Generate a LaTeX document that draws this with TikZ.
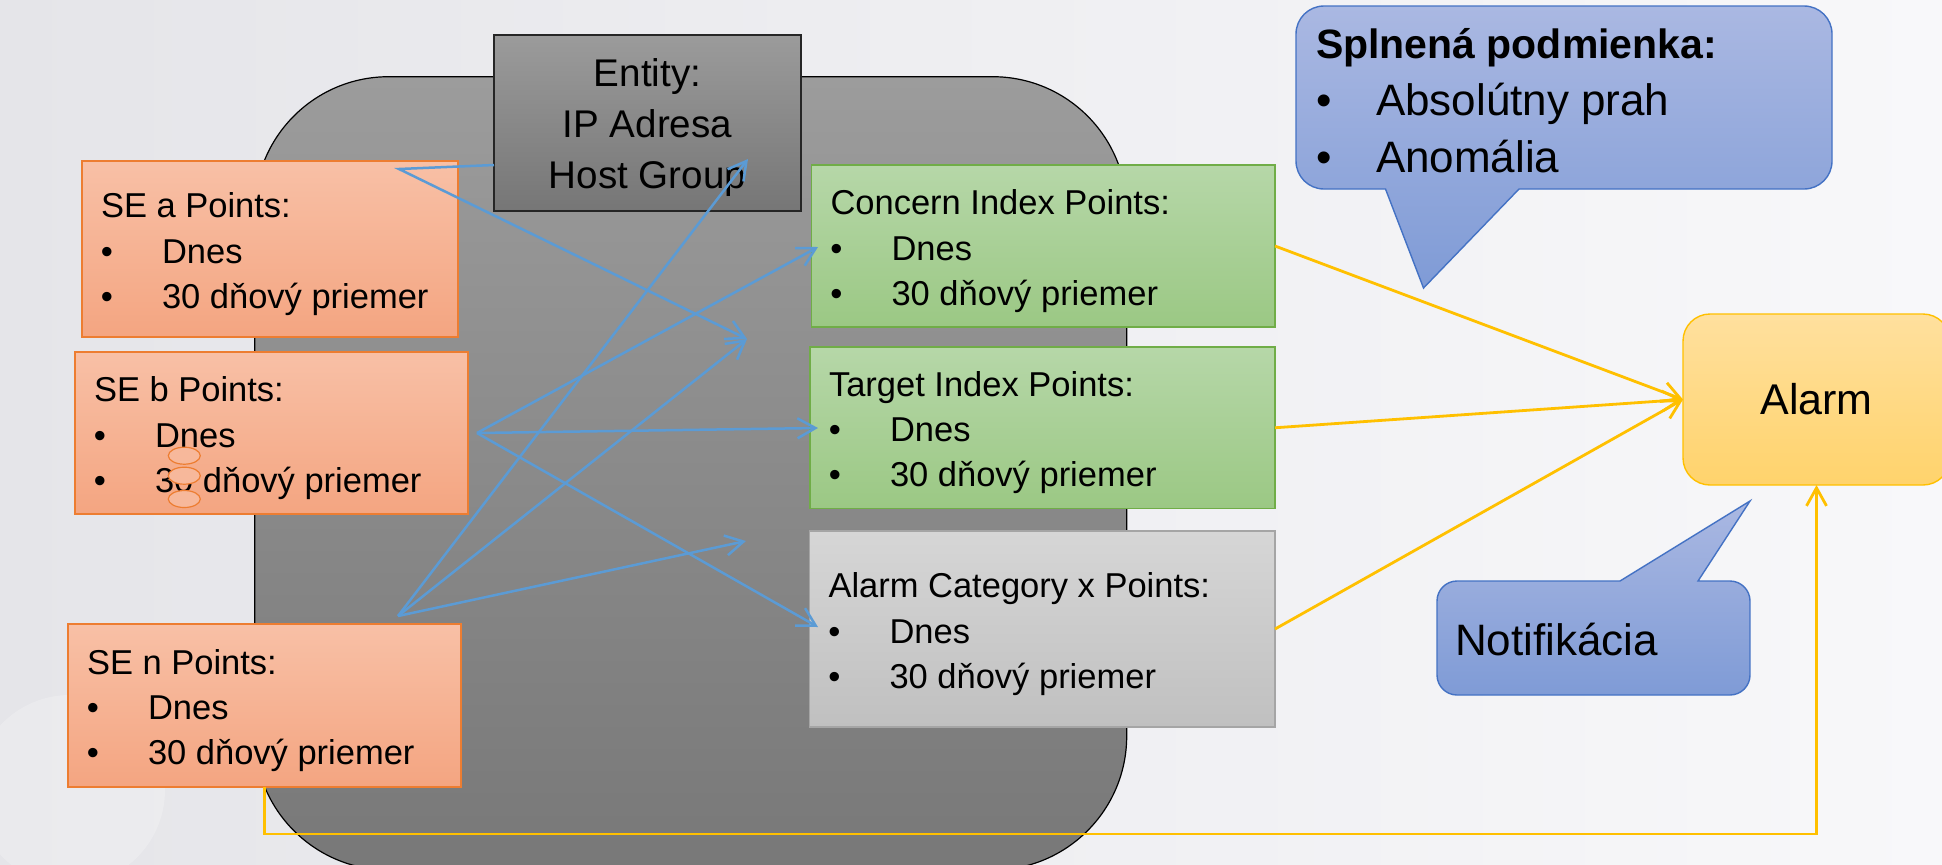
\documentclass[tikz,border=0pt]{standalone}
\usepackage{fontspec}
\setmainfont{Liberation Sans}
\usetikzlibrary{arrows.meta,calc,shapes.geometric}

\definecolor{bgL}{HTML}{E5E5E9}
\definecolor{bgR}{HTML}{F8F8FA}
\definecolor{panelT}{HTML}{9C9C9C}
\definecolor{panelB}{HTML}{787878}
\definecolor{entT}{HTML}{9B9B9B}
\definecolor{entB}{HTML}{767676}
\definecolor{orT}{HTML}{F8C0A6}
\definecolor{orB}{HTML}{F4A581}
\definecolor{orE}{HTML}{ED7D31}
\definecolor{orMark}{HTML}{F7B89B}
\definecolor{grT}{HTML}{B6D7A8}
\definecolor{grB}{HTML}{9BC884}
\definecolor{grE}{HTML}{70AD47}
\definecolor{gyT}{HTML}{D6D6D6}
\definecolor{gyB}{HTML}{C0C0C0}
\definecolor{gyE}{HTML}{A5A5A5}
\definecolor{alT}{HTML}{FFE09E}
\definecolor{alB}{HTML}{FFD36C}
\definecolor{alE}{HTML}{FFC000}
\definecolor{coT}{HTML}{AAB8E2}
\definecolor{coB}{HTML}{7F9BD6}
\definecolor{coE}{HTML}{4472C4}
\definecolor{lnBlue}{HTML}{5B9BD5}
\definecolor{lnYel}{HTML}{FFC000}

\tikzset{
  boxbase/.style={rectangle, inner sep=0pt, outer sep=0pt, line width=0.8pt},
  sebox/.style={boxbase, draw=orE, top color=orT, bottom color=orB},
  idxbox/.style={boxbase, draw=grE, top color=grT, bottom color=grB},
  catbox/.style={boxbase, draw=gyE, top color=gyT, bottom color=gyB},
  entbox/.style={boxbase, draw=black!85, top color=entT, bottom color=entB},
  panel/.style={rectangle, rounded corners=67pt, draw=black, line width=0.6pt,
    top color=panelT, bottom color=panelB, inner sep=0pt, outer sep=0pt},
  alarmbox/.style={rectangle, rounded corners=13.5pt, draw=alE, line width=0.7pt,
    top color=alT, bottom color=alB, inner sep=0pt, outer sep=0pt,
    font=\fontsize{21.5pt}{24pt}\selectfont},
  callout/.style={draw=coE, line width=0.7pt, top color=coT, bottom color=coB},
  dot/.style={ellipse, draw=orE, fill=orMark, line width=0.6pt, inner sep=0pt,
    minimum width=16pt, minimum height=8.5pt},
  txt/.style={inner sep=0pt, outer sep=0pt, font=\fontsize{17.25pt}{20pt}\selectfont},
  enttxt/.style={inner sep=0pt, outer sep=0pt, font=\fontsize{19.3pt}{22pt}\selectfont},
  cotitle/.style={inner sep=0pt, outer sep=0pt, font=\fontsize{20.5pt}{24pt}\selectfont\bfseries},
  cotxt/.style={inner sep=0pt, outer sep=0pt, font=\fontsize{22pt}{26pt}\selectfont},
  blueline/.style={draw=lnBlue, line width=1.25pt, line join=miter},
  bluearrow/.style={blueline, -{Straight Barb[length=9pt,width=10pt]}},
  yelarrow/.style={draw=lnYel, line width=1.4pt, -{Straight Barb[length=9pt,width=10pt]}},
}

% box with a title and the two bullet items
\newcommand{\pointsbox}[7]{%
  \node[#2, minimum width={(#5-#3)*0.5pt}, minimum height={(#6-#4)*0.5pt},
        anchor=north west] (#1) at (#3,#4) {};
  \node[txt, anchor=base west] (#1-t)  at ($(#1.west)+(19,-31.5)$) {#7};
  \node[txt, anchor=base]      (#1-b1) at ($(#1.west)+(25,14)$) {•};
  \node[txt, anchor=base west] (#1-i1) at ($(#1.west)+(80,14)$) {Dnes};
  \node[txt, anchor=base]      (#1-b2) at ($(#1.west)+(25,59)$) {•};
  \node[txt, anchor=base west] (#1-i2) at ($(#1.west)+(80,59)$) {30 dňový priemer};
}

\begin{document}
\begin{tikzpicture}[x=0.5pt,y=-0.5pt]
\useasboundingbox (0,0) rectangle (1942,864);
\clip (0,0) rectangle (1942,864);

% backdrop
\fill[left color=bgL, right color=bgR] (0,0) rectangle (1942,864);
\fill[white, opacity=0.22] (70,790) circle (95);

% large rounded panel
\node[panel, minimum width=436pt, minimum height=396.65pt, anchor=north west]
  (panel) at (254.7,76.7) {};

% entity box
\node[entbox, minimum width={(801-494)*0.5pt}, minimum height={(211-35)*0.5pt},
      anchor=north west] (entity) at (494,35) {};
\node[enttxt, anchor=base] (ent1) at (647.5,86.7) {Entity:};
\node[enttxt, anchor=base] (ent2) at (647.5,137) {IP Adresa};
\node[enttxt, anchor=base] (ent3) at (647.5,188) {Host Group};

% source boxes
\pointsbox{sea}{sebox}{82}{161}{458}{337}{SE a Points:}
\pointsbox{seb}{sebox}{75}{352}{468}{514}{SE b Points:}
\pointsbox{sen}{sebox}{68}{624}{461}{787}{SE n Points:}

% small marks over the second item of SE b
\node[dot] (mk1) at (184.3,455.7) {};
\node[dot] (mk2) at (184.3,475.7) {};
\node[dot] (mk3) at (184.3,499) {};

% index boxes
\pointsbox{concern}{idxbox}{811.5}{165}{1275}{327}{Concern Index Points:}
\pointsbox{target}{idxbox}{810}{347}{1275}{508.5}{Target Index Points:}
\pointsbox{alarmcat}{catbox}{809.5}{531}{1275}{727}{Alarm Category x Points:}

% alarm
\node[alarmbox, minimum width={(1950-1683)*0.5pt}, minimum height={(485-314)*0.5pt},
      anchor=north west] (alarm) at (1683,314) {Alarm};

% connector points
\coordinate (eL) at ($(entity.west)+(0,42)$);
\coordinate (aP) at (399,169);
\coordinate (bP) at (477,433);
\coordinate (nP) at (398,616);
\coordinate (t1) at (747,339);
\coordinate (t2) at (748,159);
\coordinate (t3) at (746,541);
\coordinate (cI) at (818,247);
\coordinate (tI) at (818,428);
\coordinate (aC) at (818,627);

% blue links
\draw[bluearrow] (eL) -- (aP) -- (t1);
\draw[bluearrow] (bP) -- (cI);
\draw[bluearrow] (bP) -- (tI);
\draw[bluearrow] (bP) -- (aC);
\draw[bluearrow] (nP) -- (t2);
\draw[bluearrow] (nP) -- (t1);
\draw[bluearrow] (nP) -- (t3);

% yellow links into the alarm
\draw[yelarrow] (concern.east) -- (alarm.west);
\draw[yelarrow] (target.east) -- (alarm.west);
\draw[yelarrow] (alarmcat.east) -- (alarm.west);
\draw[yelarrow] (sen.south) -- ++(0,47) -| (alarm.south);

% callout: conditions
\draw[callout] (1423.5,288) -- (1519,189) -- (1804,189)
  .. controls (1819.5,189) and (1832,176.5) .. (1832,161) -- (1832,34)
  .. controls (1832,18.5) and (1819.5,6) .. (1804,6) -- (1324,6)
  .. controls (1308.5,6) and (1296,18.5) .. (1296,34) -- (1296,161)
  .. controls (1296,176.5) and (1308.5,189) .. (1324,189) -- (1385.5,189) -- cycle;
\node[cotitle, anchor=base west] (cond-t) at (1316,58.3) {Splnená podmienka:};
\node[cotxt, anchor=base] (cond-b1) at (1324,115) {•};
\node[cotxt, anchor=base west] (cond-i1) at (1376,115) {Absolútny prah};
\node[cotxt, anchor=base] (cond-b2) at (1324,172.3) {•};
\node[cotxt, anchor=base west] (cond-i2) at (1376,172.3) {Anomália};

% callout: notification
\draw[callout] (1750,501) -- (1698,581) -- (1730,581)
  .. controls (1741,581) and (1750,590) .. (1750,601) -- (1750,675)
  .. controls (1750,686) and (1741,695) .. (1730,695) -- (1457,695)
  .. controls (1446,695) and (1437,686) .. (1437,675) -- (1437,601)
  .. controls (1437,590) and (1446,581) .. (1457,581) -- (1620,581) -- cycle;
\node[cotxt, anchor=base west] (notif) at (1455,655) {Notifikácia};
\end{tikzpicture}
\end{document}
